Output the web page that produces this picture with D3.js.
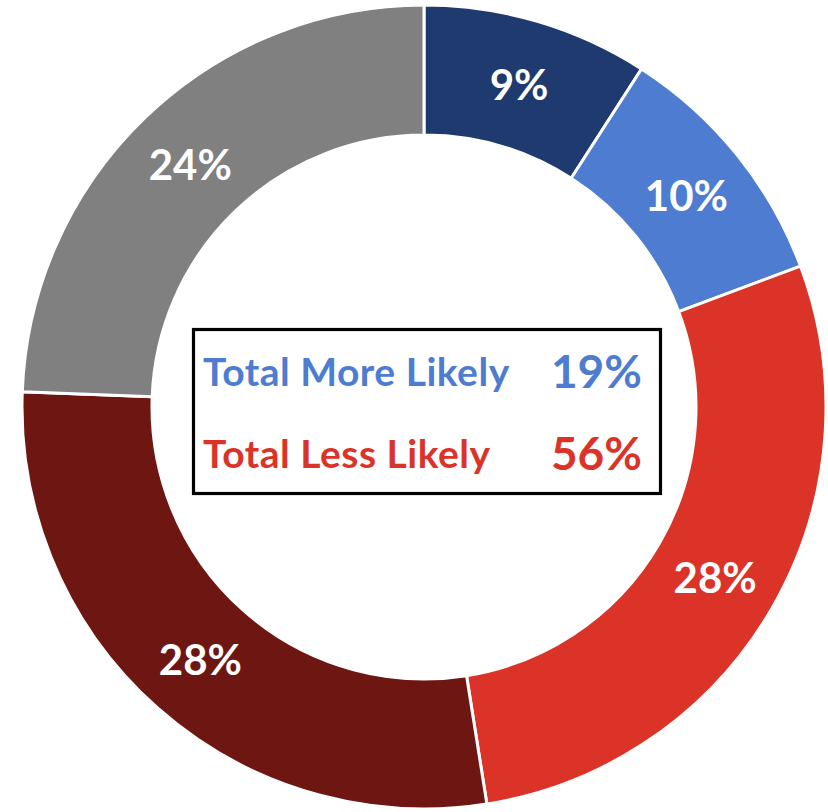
<!DOCTYPE html>
<html>
<head>
<meta charset="utf-8">
<script src="https://cdn.jsdelivr.net/npm/d3@7"></script>
<style>
  body { margin: 0; background: #fff; }
  svg { display: block; }
</style>
</head>
<body>
<div id="chart"></div>
<script>
var categories = ['Much more likely', 'Somewhat more likely', 'Somewhat less likely', 'Much less likely', 'No difference'];
var values = [9.1, 10.2, 28.2, 28.1, 24.4];
var colors = ['#1f3a6e', '#4d7cd0', '#dc3328', '#6e1712', '#808080'];

var totals_labels = ['Total More Likely', 'Total Less Likely'];
var totals_values = [values[0] + values[1], values[2] + values[3]];
var totals_colors = ['#4d7cd0', '#dc3328'];

var width = 828, height = 812;
var cx = 424, cy = 407;
var outer_r = 402, inner_r = 272;

var svg = d3.select('#chart')
    .append('svg')
    .attr('width', width)
    .attr('height', height);

var g = svg.append('g')
    .attr('transform', `translate(${cx}, ${cy})`);

var pie = d3.pie().sort(null).value(function(d) { return d; });
var arc = d3.arc().innerRadius(inner_r).outerRadius(outer_r);
var label_arc = d3.arc().innerRadius((inner_r + outer_r) / 2).outerRadius((inner_r + outer_r) / 2);

var arcs = pie(values);

g.selectAll('path.slice')
    .data(arcs)
    .enter()
    .append('path')
    .attr('class', 'slice')
    .attr('d', arc)
    .attr('fill', function(d, i) { return colors[i]; })
    .attr('stroke', '#fff')
    .attr('stroke-width', 3);

g.selectAll('text.pct')
    .data(arcs)
    .enter()
    .append('text')
    .attr('class', 'pct')
    .attr('transform', function(d) { return `translate(${label_arc.centroid(d)})`; })
    .attr('dy', '0.38em')
    .attr('text-anchor', 'middle')
    .style('font-family', 'Lato, sans-serif')
    .style('font-weight', 700)
    .style('font-size', '42px')
    .style('fill', '#fff')
    .text(function(d) { return Math.round(d.value) + '%'; });

// box in the middle
var box = svg.append('g');
box.append('rect')
    .attr('x', 193.5)
    .attr('y', 329.5)
    .attr('width', 467)
    .attr('height', 164)
    .attr('fill', '#fff')
    .attr('stroke', '#000')
    .attr('stroke-width', 3.2);

var rows_y = [386, 468];

box.selectAll('text.tl')
    .data(totals_labels)
    .enter()
    .append('text')
    .attr('class', 'tl')
    .attr('x', 203)
    .attr('y', function(d, i) { return rows_y[i]; })
    .style('font-family', 'Lato, sans-serif')
    .style('font-weight', 700)
    .style('font-size', '39px')
    .style('letter-spacing', '0.5px')
    .style('fill', function(d, i) { return totals_colors[i]; })
    .text(function(d) { return d; });

box.selectAll('text.tv')
    .data(totals_values)
    .enter()
    .append('text')
    .attr('class', 'tv')
    .attr('x', 642)
    .attr('y', function(d, i) { return rows_y[i] + 2; })
    .attr('text-anchor', 'end')
    .style('font-family', 'Lato, sans-serif')
    .style('font-weight', 700)
    .style('font-size', '46px')
    .style('fill', function(d, i) { return totals_colors[i]; })
    .text(function(d) { return Math.round(d) + '%'; });
</script>
</body>
</html>
